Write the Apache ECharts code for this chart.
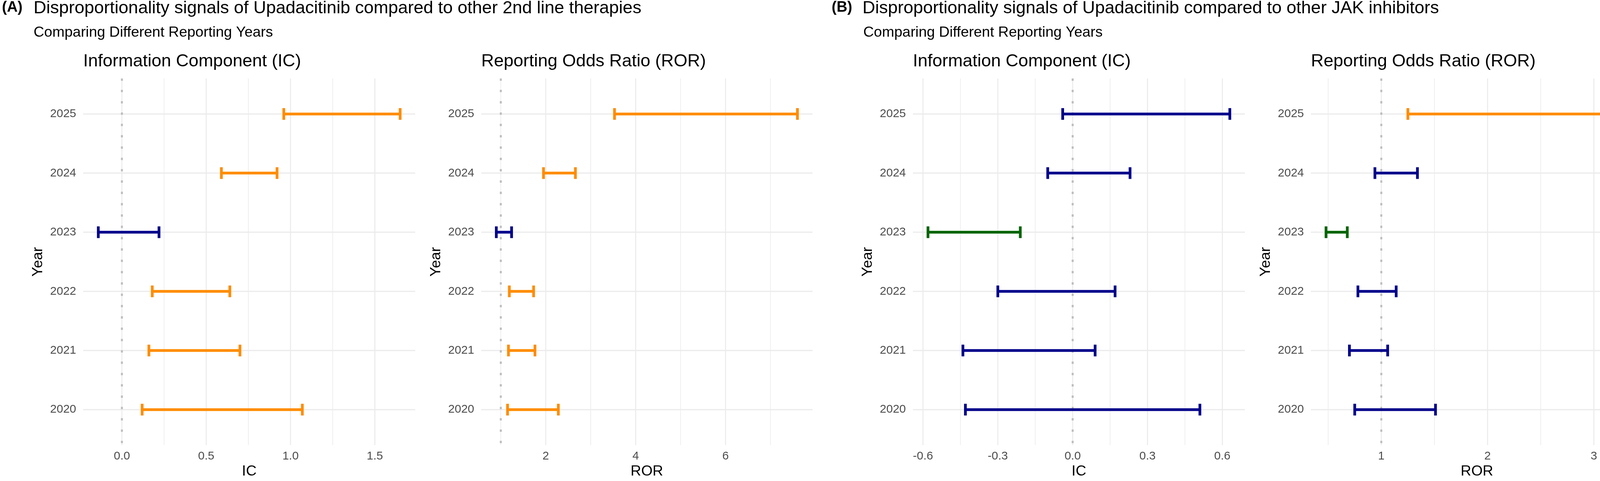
<!DOCTYPE html>
<html><head><meta charset="utf-8">
<script src="https://cdn.jsdelivr.net/npm/echarts@6/dist/echarts.min.js"></script>
<style>html,body{margin:0;padding:0;background:#fff}#c{width:4212px;height:1232px}</style>
</head><body><div id="c"></div>
<script>
// ---------------- DATA ----------------
const years = [2020, 2021, 2022, 2023, 2024, 2025];
// (A) Upadacitinib vs other 2nd line therapies
const icLowA   = [0.12, 0.16, 0.18, -0.14, 0.59, 0.96];
const icHighA  = [1.07, 0.70, 0.64, 0.22, 0.92, 1.65];
const rorLowA  = [1.15, 1.17, 1.19, 0.90, 1.95, 3.53];
const rorHighA = [2.28, 1.76, 1.73, 1.24, 2.66, 7.60];
// (B) Upadacitinib vs other JAK inhibitors
const icLowB   = [-0.43, -0.44, -0.30, -0.58, -0.10, -0.04];
const icHighB  = [0.51, 0.09, 0.17, -0.21, 0.23, 0.63];
const rorLowB  = [0.75, 0.70, 0.78, 0.48, 0.94, 1.25];
const rorHighB = [1.51, 1.06, 1.14, 0.68, 1.34, 3.32];
// tick labels / grid breaks
const icTicksA = [0, 0.5, 1, 1.5];
const icMinorA = [0.25, 0.75, 1.25];
const rorTicksA = [2, 4, 6];
const rorMinorA = [1, 3, 5, 7];
const icTicksB = [-0.6, -0.3, 0, 0.3, 0.6];
const icMinorB = [-0.45, -0.15, 0.15, 0.45];
const rorTicksB = [1, 2, 3];
const rorMinorB = [0.5, 1.5, 2.5];

const titleA = '(A)';
const mainA = 'Disproportionality signals of Upadacitinib compared to other 2nd line therapies';
const titleB = '(B)';
const mainB = 'Disproportionality signals of Upadacitinib compared to other JAK inhibitors';
const subtitle = 'Comparing Different Reporting Years';
const icTitle = 'Information Component (IC)';
const rorTitle = 'Reporting Odds Ratio (ROR)';

// ---------------- STYLE ----------------
const FONT = 'Liberation Sans, Arial, Helvetica, sans-serif';
const COLORS = {pos: '#FF8C00', ns: '#00008B', neg: '#006400'};
const GRID_COLOR = '#EBEBEB';
const Y_MIN = 2019.4, Y_MAX = 2025.6;
const TOP = 201, HEIGHT = 942;

const panels = [
  {lo: icLowA, hi: icHighA, ref: 0, ticks: icTicksA, minor: icMinorA, dec: 1, name: 'IC', title: icTitle, left: 213, width: 850},
  {lo: rorLowA, hi: rorHighA, ref: 1, ticks: rorTicksA, minor: rorMinorA, dec: 0, name: 'ROR', title: rorTitle, left: 1232, width: 848},
  {lo: icLowB, hi: icHighB, ref: 0, ticks: icTicksB, minor: icMinorB, dec: 1, name: 'IC', title: icTitle, left: 2337, width: 850},
  {lo: rorLowB, hi: rorHighB, ref: 1, ticks: rorTicksB, minor: rorMinorB, dec: 0, name: 'ROR', title: rorTitle, left: 3356, width: 850}
];

const grids = [], xAxes = [], yAxes = [], series = [];
const titles = [
  {text: titleA, left: 5, top: 1, textStyle: {fontSize: 38, fontWeight: 'bold', color: '#000', fontFamily: FONT}},
  {text: mainA, left: 86, top: -1, textStyle: {fontSize: 45, fontWeight: 'normal', color: '#000', fontFamily: FONT}},
  {text: subtitle, left: 86, top: 65, textStyle: {fontSize: 37.5, fontWeight: 'normal', color: '#000', fontFamily: FONT}},
  {text: titleB, left: 2129, top: 1, textStyle: {fontSize: 38, fontWeight: 'bold', color: '#000', fontFamily: FONT}},
  {text: mainB, left: 2208, top: -1, textStyle: {fontSize: 45, fontWeight: 'normal', color: '#000', fontFamily: FONT}},
  {text: subtitle, left: 2210, top: 65, textStyle: {fontSize: 37.5, fontWeight: 'normal', color: '#000', fontFamily: FONT}}
];

function vlineRender(widthFn, colorFn, dash) {
  return function (params, api) {
    const v = api.value(0);
    const p1 = api.coord([v, Y_MAX]);
    const p2 = api.coord([v, Y_MIN]);
    return {type: 'line', shape: {x1: p1[0], y1: p1[1], x2: p2[0], y2: p2[1]},
      style: {stroke: colorFn(api), lineWidth: widthFn(api), lineDash: dash || null}};
  };
}

panels.forEach(function (p, i) {
  let mn = Math.min.apply(null, p.lo), mx = Math.max.apply(null, p.hi);
  const pad = (mx - mn) * 0.05;
  const xmin = mn - pad, xmax = mx + pad;
  grids.push({left: p.left, top: TOP, width: p.width, height: HEIGHT});
  xAxes.push({
    type: 'value', gridIndex: i, min: xmin, max: xmax,
    axisLine: {show: false}, axisTick: {show: false}, splitLine: {show: false},
    axisLabel: {customValues: p.ticks, margin: 14, fontSize: 30, color: '#4D4D4D', fontFamily: FONT,
      formatter: function (v) { return Number(v).toFixed(p.dec); }},
    name: p.name, nameLocation: 'middle', nameGap: 48,
    nameTextStyle: {fontSize: 37.5, color: '#000', fontFamily: FONT}
  });
  yAxes.push({
    type: 'value', gridIndex: i, min: Y_MIN, max: Y_MAX,
    axisLine: {show: false}, axisTick: {show: false}, splitLine: {show: false},
    axisLabel: {customValues: years, margin: 18, fontSize: 30, color: '#4D4D4D', fontFamily: FONT,
      formatter: function (v) { return String(Math.round(v)); }},
    name: 'Year', nameLocation: 'middle', nameRotate: 90, nameGap: 96,
    nameTextStyle: {fontSize: 37.5, color: '#000', fontFamily: FONT}
  });
  titles.push({text: p.title, left: p.left, top: 135,
    textStyle: {fontSize: 45, fontWeight: 'normal', color: '#000', fontFamily: FONT}});

  // horizontal major gridlines
  series.push({
    type: 'custom', xAxisIndex: i, yAxisIndex: i, silent: true, z: 1,
    data: years.map(function (y) { return [y]; }),
    renderItem: function (params, api) {
      const y = api.value(0);
      const a = api.coord([xmin, y]), b = api.coord([xmax, y]);
      return {type: 'line', shape: {x1: a[0], y1: a[1], x2: b[0], y2: b[1]},
        style: {stroke: GRID_COLOR, lineWidth: 3}};
    }
  });
  // vertical gridlines (major + minor)
  const vdata = p.ticks.map(function (t) { return [t, 1]; })
    .concat(p.minor.filter(function (t) { return t > xmin && t < xmax; }).map(function (t) { return [t, 0]; }));
  series.push({
    type: 'custom', xAxisIndex: i, yAxisIndex: i, silent: true, z: 1,
    data: vdata,
    renderItem: vlineRender(function (api) { return api.value(1) ? 2.6 : 1.6; },
      function () { return GRID_COLOR; })
  });
  // dotted reference line
  series.push({
    type: 'custom', xAxisIndex: i, yAxisIndex: i, silent: true, z: 2,
    data: [[p.ref]],
    renderItem: vlineRender(function () { return 5; }, function () { return '#BDBDBD'; }, [6, 23])
  });
  // error bars
  const edata = years.map(function (y, k) {
    const lo = p.lo[k], hi = p.hi[k];
    const sig = lo > p.ref ? 0 : (hi < p.ref ? 2 : 1);
    return [y, lo, hi, sig];
  });
  series.push({
    type: 'custom', xAxisIndex: i, yAxisIndex: i, silent: true, z: 5,
    encode: {x: [1, 2], y: 0},
    data: edata,
    renderItem: function (params, api) {
      const y = api.value(0), lo = api.value(1), hi = api.value(2), s = api.value(3);
      const col = s === 0 ? COLORS.pos : (s === 2 ? COLORS.neg : COLORS.ns);
      const a = api.coord([lo, y]), b = api.coord([hi, y]);
      const h = 15, lw = 7;
      return {type: 'group', children: [
        {type: 'line', shape: {x1: a[0], y1: a[1], x2: b[0], y2: b[1]}, style: {stroke: col, lineWidth: lw}},
        {type: 'line', shape: {x1: a[0], y1: a[1] - h, x2: a[0], y2: a[1] + h}, style: {stroke: col, lineWidth: lw}},
        {type: 'line', shape: {x1: b[0], y1: b[1] - h, x2: b[0], y2: b[1] + h}, style: {stroke: col, lineWidth: lw}}
      ]};
    }
  });
});

const chart = echarts.init(document.getElementById('c'), null, {renderer: 'canvas'});
chart.setOption({
  backgroundColor: '#ffffff',
  animation: false,
  title: titles.map(function (t) { t.padding = 0; return t; }),
  grid: grids, xAxis: xAxes, yAxis: yAxes, series: series
});
</script></body></html>
